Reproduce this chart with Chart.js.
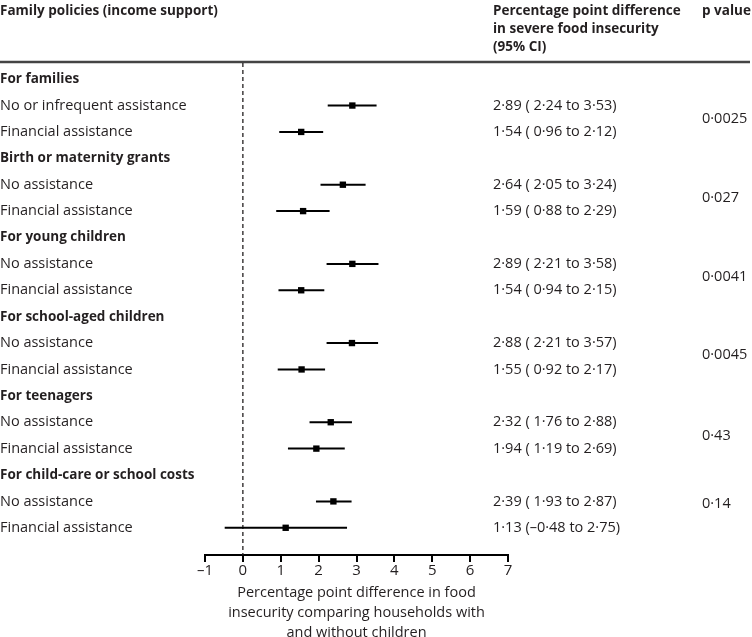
<!DOCTYPE html>
<html>
<head>
<meta charset="utf-8">
<script src="https://cdn.jsdelivr.net/npm/chart.js@4.4.1/dist/chart.umd.min.js"></script>
<style>
  html, body { margin: 0; padding: 0; background: #fff; }
  #wrap { width: 752px; height: 637px; position: relative; }
</style>
</head>
<body>
<div id="wrap"><canvas id="forest"></canvas></div>
<script>
/* Data */
var groupTitles = ['For families', 'Birth or maternity grants', 'For young children',
    'For school-aged children', 'For teenagers', 'For child-care or school costs'];
var firstRowLabels = ['No or infrequent assistance', 'No assistance', 'No assistance',
    'No assistance', 'No assistance', 'No assistance'];
var secondRowLabel = 'Financial assistance';

var noAssistEst = [2.89, 2.64, 2.89, 2.88, 2.32, 2.39];
var noAssistLow = [2.24, 2.05, 2.21, 2.21, 1.76, 1.93];
var noAssistHigh = [3.53, 3.24, 3.58, 3.57, 2.88, 2.87];

var financialEst = [1.54, 1.59, 1.54, 1.55, 1.94, 1.13];
var financialLow = [0.96, 0.88, 0.94, 0.92, 1.19, -0.48];
var financialHigh = [2.12, 2.29, 2.15, 2.17, 2.69, 2.75];

var pValues = ['0·0025', '0·027', '0·0041', '0·0045', '0·43', '0·14'];
var xTicks = [-1, 0, 1, 2, 3, 4, 5, 6, 7];

/* where the p value sits between the two rows of a group */
var pOffset = [0.5, 0.5, 0.5, 0.45, 0.5, 0.1];

var FONT = '"Open Sans", "Noto Sans", sans-serif';
var INK = '#231f20';
var EST_X = 493, P_X = 702;

function fmt(v) {
    var s = Math.abs(v).toFixed(2).replace('.', '·');
    return v < 0 ? '–' + s : s;
}
function ciText(est, lo, hi) {
    var l = lo < 0 ? fmt(lo) : ' ' + fmt(lo);
    return fmt(est) + ' (' + l + ' to ' + fmt(hi) + ')';
}

/* build rows: each group takes 3 row slots (title, first, second) */
var rows = [];
var points = [];
groupTitles.forEach(function(title, g) {
    var base = g * 3;
    rows.push({ y: base, label: title, bold: true });
    rows.push({ y: base + 1, label: firstRowLabels[g], est: noAssistEst[g], lo: noAssistLow[g], hi: noAssistHigh[g] });
    rows.push({ y: base + 2, label: secondRowLabel, est: financialEst[g], lo: financialLow[g], hi: financialHigh[g] });
    points.push({ x: noAssistEst[g], y: base + 1 });
    points.push({ x: financialEst[g], y: base + 2 });
});

var forestPlugin = {
    id: 'forest',
    beforeDatasetsDraw: function(chart) {
        var ctx = chart.ctx;
        var xs = chart.scales.x, ys = chart.scales.y;
        var area = chart.chartArea;
        ctx.save();

        /* header rule */
        ctx.strokeStyle = '#444';
        ctx.lineWidth = 2.5;
        ctx.beginPath();
        ctx.moveTo(0, 62);
        ctx.lineTo(750, 62);
        ctx.stroke();

        /* null line */
        ctx.strokeStyle = INK;
        ctx.lineWidth = 1.3;
        ctx.setLineDash([4, 3]);
        ctx.beginPath();
        ctx.moveTo(xs.getPixelForValue(0), area.top + 1);
        ctx.lineTo(xs.getPixelForValue(0), area.bottom);
        ctx.stroke();
        ctx.setLineDash([]);

        /* confidence intervals */
        ctx.lineWidth = 2;
        ctx.strokeStyle = '#000';
        rows.forEach(function(r) {
            if (r.lo === undefined) return;
            var py = ys.getPixelForValue(r.y);
            ctx.beginPath();
            ctx.moveTo(xs.getPixelForValue(r.lo), py);
            ctx.lineTo(xs.getPixelForValue(r.hi), py);
            ctx.stroke();
        });

        /* text columns */
        ctx.fillStyle = INK;
        ctx.textBaseline = 'middle';
        ctx.textAlign = 'left';
        ctx.font = 'bold 13.5px ' + FONT;
        ctx.fillText('Family policies (income support)', 0, 11);
        ctx.fillText('Percentage point difference', EST_X, 11);
        ctx.fillText('in severe food insecurity', EST_X, 29);
        ctx.fillText('(95% CI)', EST_X, 47);
        ctx.fillText('p value', P_X, 11);

        rows.forEach(function(r) {
            var py = ys.getPixelForValue(r.y);
            ctx.font = (r.bold ? 'bold 13.5px ' : '14.5px ') + FONT;
            ctx.fillText(r.label, 0, py);
            if (r.est !== undefined) {
                ctx.font = '14.5px ' + FONT;
                ctx.fillText(ciText(r.est, r.lo, r.hi), EST_X, py);
            }
        });
        ctx.font = '14.5px ' + FONT;
        pValues.forEach(function(p, g) {
            ctx.fillText(p, P_X, ys.getPixelForValue(g * 3 + 1 + pOffset[g]));
        });
        ctx.restore();
    }
};

new Chart(document.getElementById('forest'), {
    type: 'scatter',
    data: {
        datasets: [{
            data: points,
            pointStyle: 'rect',
            pointRadius: 4.5,
            pointHoverRadius: 4.5,
            backgroundColor: '#000',
            borderColor: '#000',
            borderWidth: 0
        }]
    },
    options: {
        responsive: true,
        maintainAspectRatio: false,
        animation: false,
        events: [],
        layout: { padding: { top: 62, left: 205, right: 244, bottom: -6 } },
        plugins: { legend: { display: false }, tooltip: { enabled: false } },
        scales: {
            x: {
                type: 'linear',
                min: -1,
                max: 7,
                afterBuildTicks: function(axis) {
                    axis.ticks = xTicks.map(function(v) { return { value: v }; });
                },
                border: { display: true, color: '#000', width: 2 },
                grid: { drawOnChartArea: false, drawTicks: true, tickLength: 7, color: '#000', lineWidth: 2 },
                ticks: {
                    color: INK,
                    padding: 0,
                    font: { family: FONT, size: 15 },
                    callback: function(v) { return v < 0 ? '–' + Math.abs(v) : String(v); }
                },
                title: {
                    display: true,
                    text: ['Percentage point difference in food',
                           'insecurity comparing households with',
                           'and without children'],
                    color: INK,
                    font: { family: FONT, size: 14.5, lineHeight: 1.38 },
                    padding: { top: 3, bottom: 0 }
                }
            },
            y: {
                type: 'linear',
                min: -0.65,
                max: 18.03,
                reverse: true,
                display: false
            }
        }
    },
    plugins: [forestPlugin]
});
</script>
</body>
</html>
